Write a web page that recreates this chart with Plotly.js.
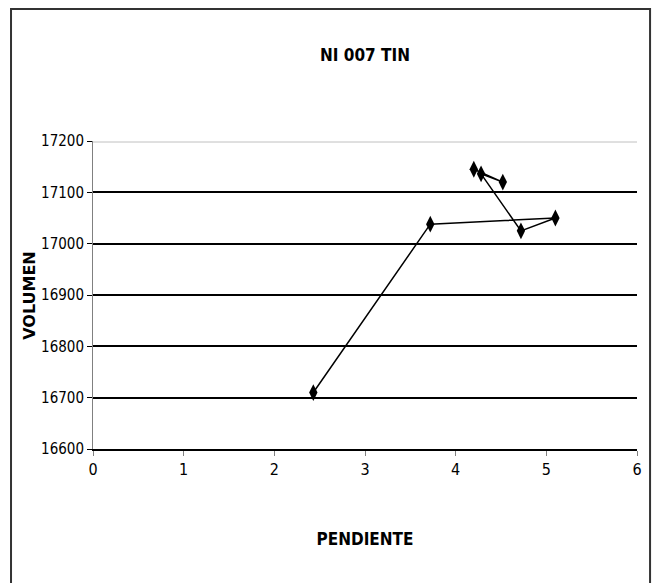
<!DOCTYPE html>
<html>
<head>
<meta charset="utf-8">
<script src="https://cdn.plot.ly/plotly-3.0.1.min.js"></script>
<style>html,body{margin:0;padding:0;background:#fff;}#chart{width:652px;height:583px;}</style>
</head>
<body>
<div id="chart"></div>
<script>
const pendiente = [2.43, 3.72, 5.10, 4.72, 4.28, 4.52, 4.20];
const volumen = [16710, 17038, 17050, 17025, 17136, 17120, 17145];
const xTicks = [0, 1, 2, 3, 4, 5, 6];
const yTicks = [16600, 16700, 16800, 16900, 17000, 17100, 17200];
const chartTitle = 'NI 007 TIN';
const xTitle = 'PENDIENTE';
const yTitle = 'VOLUMEN';

const narrow = 'DejaVu Sans Condensed, Liberation Sans Narrow, Arial Narrow, sans-serif';

const trace = {
  x: pendiente, y: volumen, type: 'scatter', mode: 'lines+markers',
  line: {color: '#000', width: 1.5},
  marker: {symbol: 'diamond-tall', size: 12, color: '#000'},
  hoverinfo: 'x+y'
};

const layout = {
  width: 652, height: 583,
  margin: {l: 93, r: 15, t: 141, b: 134},
  paper_bgcolor: '#fff', plot_bgcolor: '#fff',
  showlegend: false,
  title: {text: chartTitle, x: 0.5, xref: 'paper', y: 0.915, yref: 'container', xanchor: 'center',
    font: {family: narrow, size: 17, color: '#000', weight: 'bold'}},
  xaxis: {
    range: [0, 6], tickvals: xTicks, ticktext: xTicks.map(String),
    showgrid: false, zeroline: false,
    showline: true, linecolor: '#000', linewidth: 2,
    ticks: 'outside', ticklen: 5, tickcolor: '#808080', tickwidth: 1,
    tickfont: {family: narrow, size: 16, color: '#000'},
    title: {text: xTitle, standoff: 55, font: {family: narrow, size: 17, color: '#000', weight: 'bold'}}
  },
  yaxis: {
    range: [16600, 17200], tickvals: yTicks, ticktext: yTicks.map(String),
    showgrid: true, gridcolor: '#000', gridwidth: 2, zeroline: false,
    showline: true, linecolor: '#808080', linewidth: 1,
    ticks: 'outside', ticklen: 5, tickcolor: '#000', tickwidth: 1,
    tickfont: {family: narrow, size: 15, color: '#000'},
    title: {text: ''}
  },
  annotations: [
    {text: yTitle, xref: 'paper', yref: 'paper', x: -0.118, y: 0.5, xanchor: 'center', yanchor: 'middle',
      textangle: -90, showarrow: false,
      font: {family: 'DejaVu Sans, sans-serif', size: 16, color: '#000', weight: 'bold'}}
  ],
  shapes: [
    {type: 'line', xref: 'paper', yref: 'y', x0: 0, x1: 1, y0: 17200, y1: 17200,
      line: {color: '#c0c0c0', width: 3}},
    {type: 'line', xref: 'paper', yref: 'y', x0: 0, x1: 1, y0: 17200, y1: 17200,
      line: {color: '#ffffff', width: 1}},
    {type: 'rect', xref: 'paper', yref: 'paper', x0: -0.1507, x1: 1.024, y0: -0.46, y1: 1.4286,
      line: {color: '#333', width: 2}, fillcolor: 'rgba(0,0,0,0)', layer: 'below'}
  ]
};

Plotly.newPlot('chart', [trace], layout, {displayModeBar: false, staticPlot: true});
</script>
</body>
</html>
